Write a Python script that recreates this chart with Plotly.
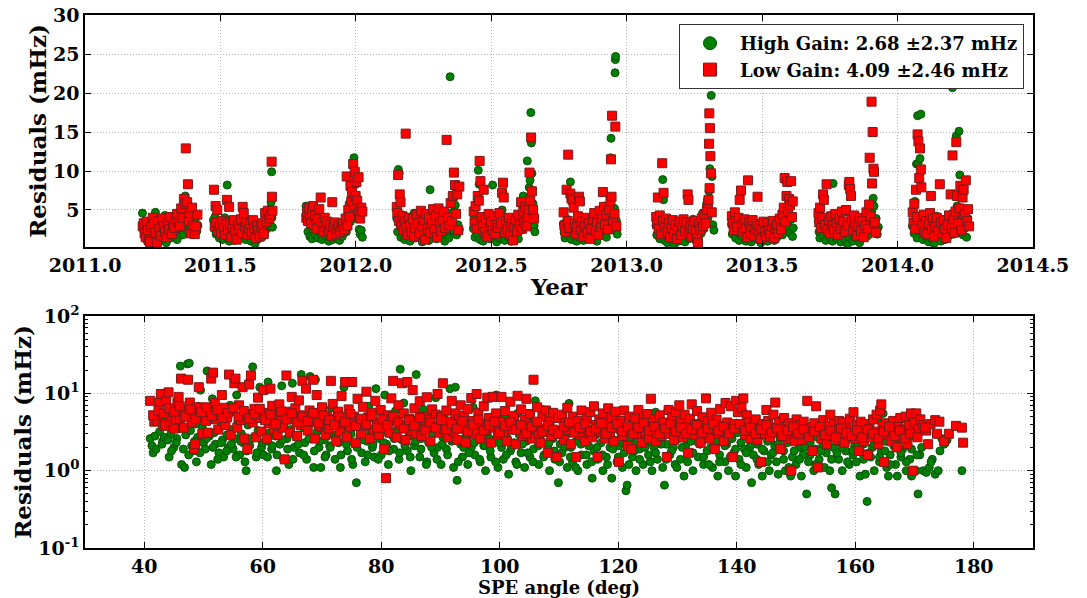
import plotly.graph_objects as go

# ---------------- data ----------------
# Top panel: residual (mHz) versus time (year)
hg_year_pts = [
    (2011.212,4.6),(2011.215,2.9),(2011.218,2.2),(2011.222,1.4),(2011.226,3.1),(2011.23,1.0),(2011.234,2.5),(2011.238,1.8),(2011.243,0.9),(2011.247,3.3),(2011.252,1.3),(2011.256,2.7),(2011.26,4.7),(2011.265,1.6),(2011.27,2.2),(2011.275,3.8),(2011.28,1.1),(2011.285,2.9),(2011.29,1.9),(2011.295,4.3),(2011.30,0.8),(2011.305,2.4),(2011.31,3.5),(2011.315,1.4),(2011.32,2.8),(2011.325,1.9),(2011.33,3.9),(2011.335,2.3),(2011.34,1.2),(2011.345,3.2),(2011.35,2.6),(2011.355,4.6),(2011.36,1.8),(2011.365,5.4),(2011.37,6.8),(2011.374,3.4),(2011.378,2.4),(2011.383,4.1),(2011.388,2.8),(2011.393,3.6),(2011.398,1.9),(2011.403,2.6),(2011.408,3.9),(2011.413,2.3),(2011.417,3.0),
    (2011.474,3.7),(2011.477,2.6),(2011.48,4.1),(2011.484,1.9),(2011.488,3.0),(2011.492,2.2),(2011.496,1.4),(2011.50,3.4),(2011.504,2.0),(2011.508,1.2),(2011.512,2.8),(2011.516,4.0),(2011.52,1.6),(2011.525,8.2),(2011.528,2.4),(2011.533,1.0),(2011.538,3.2),(2011.543,1.8),(2011.548,2.6),(2011.553,1.1),(2011.558,3.5),(2011.563,2.0),(2011.568,1.4),(2011.573,2.9),(2011.578,1.7),(2011.583,3.8),(2011.588,2.3),(2011.593,1.2),(2011.598,3.0),(2011.603,1.9),(2011.608,2.5),(2011.613,1.0),(2011.618,3.3),(2011.623,1.6),(2011.628,0.7),(2011.633,2.2),(2011.638,1.3),(2011.643,3.1),(2011.648,2.0),(2011.653,1.5),(2011.658,2.8),(2011.663,2.0),(2011.668,3.6),(2011.672,2.6),(2011.676,4.4),(2011.68,3.0),(2011.684,5.2),(2011.687,6.0),(2011.689,9.9),(2011.69,4.0),(2011.692,2.8),
    (2011.816,5.5),(2011.82,3.5),(2011.823,2.2),(2011.827,4.5),(2011.83,1.6),(2011.834,3.0),(2011.838,1.3),(2011.842,2.4),(2011.846,3.9),(2011.85,1.8),(2011.855,2.8),(2011.86,1.4),(2011.865,3.4),(2011.87,2.1),(2011.875,1.2),(2011.88,2.7),(2011.885,3.8),(2011.89,1.6),(2011.895,2.3),(2011.90,1.0),(2011.905,3.1),(2011.91,1.9),(2011.915,1.2),(2011.92,2.6),(2011.925,1.5),(2011.93,3.3),(2011.935,2.0),(2011.94,1.1),(2011.945,2.8),(2011.95,1.6),(2011.955,2.4),(2011.96,3.6),(2011.965,2.2),(2011.97,4.4),(2011.975,5.8),(2011.98,3.5),(2011.985,7.2),(2011.99,4.8),(2011.993,11.7),(2011.996,6.5),(2012.0,8.3),(2012.004,5.6),(2012.008,3.9),(2012.012,2.5),(2012.016,1.9),(2012.02,2.4),(2012.024,1.5),
    (2012.151,3.9),(2012.154,2.2),(2012.157,10.2),(2012.16,9.7),(2012.163,3.0),(2012.166,1.5),(2012.17,4.4),(2012.175,2.6),(2012.18,1.2),(2012.185,3.5),(2012.19,1.9),(2012.195,2.8),(2012.20,1.0),(2012.205,3.3),(2012.21,2.1),(2012.215,4.6),(2012.22,1.4),(2012.225,2.7),(2012.23,3.8),(2012.235,1.7),(2012.24,2.4),(2012.245,0.9),(2012.25,3.0),(2012.255,1.6),(2012.26,4.2),(2012.265,2.3),(2012.27,1.1),(2012.274,7.6),(2012.278,2.9),(2012.283,1.8),(2012.288,3.6),(2012.293,2.5),(2012.298,1.3),(2012.303,3.2),(2012.308,2.0),(2012.313,4.1),(2012.318,1.5),(2012.323,2.8),(2012.328,1.0),(2012.333,3.4),(2012.338,2.2),(2012.343,1.4),(2012.348,22.1),(2012.352,3.0),(2012.357,4.7),(2012.362,2.3),(2012.367,5.6),(2012.372,1.8),(2012.377,3.1),(2012.382,2.5),
    (2012.434,2.6),(2012.437,4.2),(2012.44,1.5),(2012.444,3.3),(2012.448,2.0),(2012.452,10.1),(2012.455,8.3),(2012.458,1.2),(2012.462,3.7),(2012.466,2.4),(2012.47,1.0),(2012.475,3.0),(2012.48,1.8),(2012.485,4.0),(2012.49,2.2),(2012.495,1.3),(2012.50,2.9),(2012.505,8.2),(2012.51,1.7),(2012.515,3.4),(2012.52,0.9),(2012.525,2.5),(2012.53,1.4),(2012.535,3.1),(2012.54,5.0),(2012.545,2.0),(2012.55,1.1),(2012.555,2.7),(2012.56,1.6),(2012.565,3.5),(2012.57,2.3),(2012.575,1.0),(2012.58,2.8),(2012.585,1.5),(2012.59,3.9),(2012.595,2.1),(2012.60,1.3),(2012.605,3.2),(2012.61,2.4),(2012.615,4.3),(2012.618,6.8),(2012.622,2.9),(2012.626,3.6),(2012.63,5.2),(2012.633,11.3),(2012.637,4.5),(2012.64,7.9),(2012.643,8.8),(2012.646,17.5),(2012.648,13.6),(2012.65,9.7),(2012.654,5.8),(2012.658,3.0),(2012.661,2.2),
    (2012.766,3.2),(2012.769,2.1),(2012.772,1.4),(2012.776,2.8),(2012.78,3.8),(2012.784,1.7),(2012.788,2.5),(2012.792,8.6),(2012.796,1.2),(2012.80,3.1),(2012.805,5.8),(2012.81,2.0),(2012.815,1.0),(2012.82,2.7),(2012.825,1.5),(2012.83,3.4),(2012.835,2.2),(2012.84,1.1),(2012.845,2.9),(2012.85,1.8),(2012.855,3.6),(2012.86,1.3),(2012.865,2.4),(2012.87,4.0),(2012.875,1.6),(2012.88,3.0),(2012.885,2.1),(2012.89,1.0),(2012.895,2.6),(2012.90,4.4),(2012.905,1.9),(2012.91,3.3),(2012.915,2.3),(2012.92,5.5),(2012.925,1.5),(2012.93,3.7),(2012.935,2.8),(2012.94,11.7),(2012.942,14.2),(2012.945,4.9),(2012.95,2.5),(2012.955,5.2),(2012.957,22.6),(2012.958,24.3),(2012.959,24.7),(2012.962,3.6),(2012.965,1.9),
    (2013.108,3.0),(2013.111,1.8),(2013.114,4.1),(2013.118,2.4),(2013.122,1.3),(2013.126,3.3),(2013.13,2.0),(2013.133,8.9),(2013.136,6.3),(2013.14,1.1),(2013.145,2.7),(2013.15,0.8),(2013.155,1.9),(2013.16,3.0),(2013.165,1.2),(2013.17,2.3),(2013.175,0.5),(2013.18,1.6),(2013.185,2.9),(2013.19,1.0),(2013.195,2.1),(2013.20,3.4),(2013.205,1.4),(2013.21,2.5),(2013.215,0.9),(2013.22,1.8),(2013.225,3.2),(2013.23,1.3),(2013.235,2.6),(2013.24,1.7),(2013.245,3.8),(2013.25,2.2),(2013.255,1.1),(2013.26,2.8),(2013.265,1.5),(2013.27,3.5),(2013.275,2.0),(2013.28,4.6),(2013.285,2.6),(2013.29,3.3),(2013.295,5.8),(2013.30,4.0),(2013.304,7.4),(2013.307,10.3),(2013.31,12.0),(2013.312,19.7),(2013.315,9.3),(2013.318,3.1),(2013.322,2.4),
    (2013.387,3.2),(2013.39,1.9),(2013.394,4.0),(2013.398,2.5),(2013.402,1.4),(2013.406,3.5),(2013.41,2.2),(2013.415,1.1),(2013.42,2.9),(2013.425,1.6),(2013.43,3.7),(2013.435,2.4),(2013.44,1.0),(2013.445,2.7),(2013.45,1.7),(2013.455,3.3),(2013.46,0.9),(2013.465,2.1),(2013.47,1.4),(2013.475,3.0),(2013.48,2.3),(2013.485,1.2),(2013.49,2.6),(2013.495,0.8),(2013.50,1.9),(2013.505,3.1),(2013.51,1.3),(2013.515,2.4),(2013.52,1.0),(2013.525,2.8),(2013.53,1.6),(2013.535,3.4),(2013.54,2.0),(2013.545,1.1),(2013.55,2.6),(2013.555,1.5),(2013.56,3.2),(2013.565,2.2),(2013.57,4.1),(2013.575,1.8),(2013.58,3.6),(2013.584,8.8),(2013.588,2.5),(2013.592,4.5),(2013.596,3.0),(2013.60,5.2),(2013.604,2.0),(2013.608,3.8),(2013.612,1.6),(2013.615,2.7),
    (2013.707,3.6),(2013.71,2.2),(2013.713,1.4),(2013.717,4.3),(2013.721,2.8),(2013.725,1.7),(2013.73,3.3),(2013.735,1.1),(2013.74,2.4),(2013.745,3.9),(2013.75,1.5),(2013.755,2.9),(2013.76,1.0),(2013.762,8.4),(2013.766,2.1),(2013.77,3.5),(2013.775,1.3),(2013.78,2.6),(2013.785,1.8),(2013.79,0.9),(2013.795,3.1),(2013.80,2.0),(2013.805,1.2),(2013.81,2.7),(2013.815,0.6),(2013.82,1.6),(2013.825,3.4),(2013.83,2.3),(2013.835,1.0),(2013.84,2.9),(2013.845,1.5),(2013.85,3.8),(2013.855,2.2),(2013.86,0.8),(2013.865,2.6),(2013.87,1.4),(2013.875,3.2),(2013.88,2.0),(2013.885,4.4),(2013.89,1.7),(2013.895,2.9),(2013.90,3.6),(2013.905,4.8),(2013.91,6.5),(2013.913,5.5),(2013.917,2.5),(2013.921,3.9),(2013.925,1.9),(2013.929,2.8),
    (2014.055,2.9),(2014.058,4.8),(2014.061,2.0),(2014.064,6.1),(2014.067,3.6),(2014.07,10.9),(2014.072,1.4),(2014.074,17.1),(2014.076,11.0),(2014.08,3.3),(2014.083,11.6),(2014.086,17.3),(2014.09,2.2),(2014.094,1.2),(2014.098,3.8),(2014.10,2.6),(2014.105,1.6),(2014.11,3.0),(2014.115,0.9),(2014.12,2.3),(2014.125,1.3),(2014.13,3.4),(2014.135,0.7),(2014.14,2.1),(2014.145,4.2),(2014.15,1.5),(2014.155,2.8),(2014.16,1.0),(2014.165,3.2),(2014.17,2.0),(2014.175,1.2),(2014.18,2.6),(2014.185,3.7),(2014.19,1.7),(2014.195,2.9),(2014.20,4.5),(2014.203,20.7),(2014.207,1.9),(2014.21,3.4),(2014.214,2.4),(2014.217,14.5),(2014.22,5.5),(2014.224,3.0),(2014.227,15.1),(2014.23,9.5),(2014.234,2.3),(2014.238,4.0),(2014.242,1.8),(2014.246,3.3),(2014.25,2.7),(2014.255,1.5),(2014.26,3.9),
]

lg_year_pts = [
    (2011.213,2.9),(2011.217,3.3),(2011.22,2.0),(2011.224,1.5),(2011.228,3.5),(2011.232,2.4),(2011.236,1.1),(2011.24,0.9),(2011.245,2.8),(2011.25,4.0),(2011.255,3.2),(2011.26,2.1),(2011.265,0.8),(2011.27,3.6),(2011.275,2.6),(2011.28,1.7),(2011.285,3.9),(2011.29,2.9),(2011.295,2.2),(2011.30,1.5),(2011.305,3.3),(2011.31,2.5),(2011.315,4.1),(2011.32,1.9),(2011.325,3.0),(2011.33,2.7),(2011.335,3.8),(2011.34,4.5),(2011.345,3.4),(2011.35,2.9),(2011.355,5.2),(2011.36,4.0),(2011.365,6.4),(2011.372,12.9),(2011.37,5.8),(2011.38,8.3),(2011.377,6.0),(2011.383,3.6),(2011.387,4.6),(2011.39,2.0),(2011.395,5.3),(2011.40,3.0),(2011.405,1.9),(2011.41,2.9),(2011.415,4.4),
    (2011.476,7.6),(2011.479,2.9),(2011.482,5.5),(2011.485,3.4),(2011.488,5.0),(2011.492,2.3),(2011.497,3.0),(2011.502,2.0),(2011.507,3.6),(2011.512,2.7),(2011.517,1.8),(2011.522,3.3),(2011.524,6.3),(2011.528,2.4),(2011.532,5.4),(2011.536,3.1),(2011.54,1.5),(2011.545,2.8),(2011.55,3.7),(2011.555,2.2),(2011.56,1.2),(2011.565,3.0),(2011.57,2.5),(2011.575,3.8),(2011.58,2.0),(2011.582,5.4),(2011.586,4.6),(2011.59,2.9),(2011.595,3.4),(2011.60,1.8),(2011.605,2.6),(2011.61,3.2),(2011.615,2.1),(2011.62,3.7),(2011.625,2.7),(2011.63,1.4),(2011.635,3.0),(2011.64,2.4),(2011.645,1.6),(2011.65,2.9),(2011.655,3.3),(2011.66,1.9),(2011.665,4.6),(2011.67,3.5),(2011.675,4.9),(2011.68,3.9),(2011.684,4.4),(2011.689,11.2),(2011.69,6.7),(2011.692,4.9),
    (2011.817,4.0),(2011.82,4.7),(2011.823,3.6),(2011.827,5.2),(2011.83,4.1),(2011.834,3.3),(2011.838,4.6),(2011.842,5.5),(2011.846,3.0),(2011.85,4.3),(2011.855,2.6),(2011.86,3.8),(2011.865,5.1),(2011.87,6.6),(2011.875,3.4),(2011.88,2.2),(2011.885,4.0),(2011.89,2.9),(2011.895,3.5),(2011.90,2.4),(2011.905,3.1),(2011.91,1.7),(2011.913,6.0),(2011.917,2.8),(2011.922,3.4),(2011.927,1.9),(2011.932,2.6),(2011.937,3.0),(2011.942,2.2),(2011.947,2.9),(2011.952,3.3),(2011.957,2.5),(2011.962,3.9),(2011.966,9.3),(2011.969,3.0),(2011.972,5.0),(2011.976,4.1),(2011.98,8.1),(2011.983,6.1),(2011.986,7.3),(2011.99,10.9),(2011.993,5.5),(2011.996,9.9),(2011.999,6.8),(2012.002,8.6),(2012.005,6.2),(2012.01,9.2),(2012.012,4.7),(2012.016,3.9),(2012.02,5.3),(2012.024,4.8),
    (2012.151,5.4),(2012.153,4.6),(2012.156,9.5),(2012.159,3.6),(2012.162,7.0),(2012.165,6.0),(2012.168,3.0),(2012.172,4.2),(2012.176,2.4),(2012.18,3.5),(2012.184,14.8),(2012.187,2.8),(2012.19,1.8),(2012.195,4.0),(2012.20,3.1),(2012.205,2.2),(2012.21,3.8),(2012.215,1.6),(2012.22,2.7),(2012.225,4.4),(2012.23,3.3),(2012.235,2.0),(2012.24,4.9),(2012.245,2.9),(2012.25,3.6),(2012.255,1.2),(2012.26,4.5),(2012.265,2.6),(2012.27,3.9),(2012.275,2.1),(2012.28,3.2),(2012.285,5.1),(2012.29,2.5),(2012.295,4.3),(2012.30,1.5),(2012.305,5.2),(2012.31,3.4),(2012.315,2.3),(2012.32,3.7),(2012.325,4.8),(2012.33,2.7),(2012.335,14.0),(2012.34,4.0),(2012.345,3.0),(2012.35,5.9),(2012.355,3.6),(2012.358,6.8),(2012.362,9.8),(2012.366,8.2),(2012.37,4.5),(2012.374,7.0),(2012.378,2.4),(2012.382,8.0),
    (2012.435,4.8),(2012.438,3.4),(2012.442,5.5),(2012.446,2.6),(2012.45,6.8),(2012.454,6.2),(2012.457,11.3),(2012.46,8.7),(2012.464,4.1),(2012.468,3.0),(2012.472,7.6),(2012.476,2.2),(2012.48,3.8),(2012.485,1.6),(2012.49,4.5),(2012.495,2.9),(2012.50,3.5),(2012.505,2.4),(2012.51,4.2),(2012.515,1.9),(2012.52,3.1),(2012.525,2.7),(2012.53,4.6),(2012.535,3.3),(2012.54,7.2),(2012.543,8.5),(2012.546,6.6),(2012.55,2.1),(2012.555,3.6),(2012.56,2.5),(2012.565,4.0),(2012.57,1.8),(2012.575,3.2),(2012.58,1.1),(2012.585,2.8),(2012.59,3.7),(2012.595,2.3),(2012.60,4.4),(2012.605,3.0),(2012.61,6.0),(2012.614,2.6),(2012.618,4.8),(2012.622,3.4),(2012.626,5.4),(2012.63,2.9),(2012.634,4.1),(2012.638,5.1),(2012.641,9.8),(2012.644,6.2),(2012.647,14.3),(2012.65,7.4),(2012.654,5.0),(2012.658,3.9),
    (2012.767,4.7),(2012.77,3.0),(2012.774,2.2),(2012.778,7.6),(2012.782,3.6),(2012.784,12.1),(2012.788,2.7),(2012.792,7.1),(2012.796,6.5),(2012.80,6.3),(2012.804,5.3),(2012.808,3.2),(2012.812,1.9),(2012.816,2.8),(2012.82,4.2),(2012.824,6.7),(2012.827,6.1),(2012.83,2.4),(2012.835,3.5),(2012.84,1.6),(2012.845,2.9),(2012.85,4.0),(2012.855,2.1),(2012.86,3.3),(2012.865,1.3),(2012.87,2.6),(2012.875,3.8),(2012.88,4.6),(2012.885,2.3),(2012.89,3.4),(2012.895,1.8),(2012.90,4.9),(2012.905,2.8),(2012.91,3.9),(2012.912,7.3),(2012.916,5.4),(2012.92,3.1),(2012.925,4.4),(2012.93,2.5),(2012.935,5.0),(2012.94,6.1),(2012.942,11.5),(2012.944,6.7),(2012.946,17.1),(2012.95,3.6),(2012.955,4.5),(2012.958,15.7),(2012.962,2.9),
    (2013.109,4.1),(2013.112,3.2),(2013.115,6.6),(2013.118,2.6),(2013.122,4.3),(2013.126,1.9),(2013.131,11.0),(2013.134,3.6),(2013.136,7.2),(2013.14,2.9),(2013.145,3.9),(2013.15,2.2),(2013.155,3.3),(2013.16,1.5),(2013.165,2.7),(2013.17,3.7),(2013.175,2.0),(2013.18,3.1),(2013.185,1.3),(2013.19,2.5),(2013.195,3.5),(2013.20,1.8),(2013.205,2.9),(2013.21,3.8),(2013.215,2.3),(2013.22,3.4),(2013.225,7.0),(2013.228,6.3),(2013.232,2.1),(2013.236,3.0),(2013.24,1.6),(2013.245,2.6),(2013.25,3.6),(2013.255,2.3),(2013.26,1.4),(2013.263,0.8),(2013.267,3.2),(2013.272,2.5),(2013.277,3.9),(2013.282,2.9),(2013.287,4.4),(2013.292,3.3),(2013.296,5.0),(2013.30,5.9),(2013.302,6.3),(2013.304,13.5),(2013.305,17.4),(2013.306,7.8),(2013.307,15.5),(2013.309,11.9),(2013.311,9.7),(2013.314,4.7),
    (2013.388,4.2),(2013.391,3.3),(2013.395,2.4),(2013.399,4.7),(2013.403,3.6),(2013.408,2.8),(2013.413,4.0),(2013.417,6.3),(2013.422,7.5),(2013.426,3.1),(2013.43,2.2),(2013.435,3.8),(2013.44,2.6),(2013.445,1.5),(2013.448,8.8),(2013.452,3.4),(2013.456,2.0),(2013.46,2.9),(2013.465,3.7),(2013.47,1.7),(2013.475,2.5),(2013.48,3.2),(2013.483,6.7),(2013.487,2.1),(2013.49,3.0),(2013.495,1.3),(2013.50,2.6),(2013.505,3.5),(2013.51,2.2),(2013.515,1.6),(2013.52,3.3),(2013.525,2.4),(2013.53,1.9),(2013.535,2.9),(2013.54,3.6),(2013.545,1.4),(2013.55,2.7),(2013.555,3.1),(2013.56,2.0),(2013.565,3.9),(2013.57,2.5),(2013.575,4.4),(2013.58,5.3),(2013.583,9.1),(2013.586,3.5),(2013.59,6.8),(2013.593,8.6),(2013.596,4.8),(2013.60,6.4),(2013.603,5.6),(2013.607,8.7),(2013.61,4.1),(2013.613,6.1),
    (2013.708,4.6),(2013.711,3.4),(2013.714,5.3),(2013.718,2.7),(2013.722,4.0),(2013.725,7.0),(2013.728,6.3),(2013.732,3.1),(2013.738,8.3),(2013.742,2.4),(2013.746,3.7),(2013.75,2.0),(2013.755,4.2),(2013.76,3.0),(2013.765,2.5),(2013.77,4.5),(2013.775,3.3),(2013.78,1.8),(2013.785,3.9),(2013.79,2.6),(2013.795,4.8),(2013.80,3.5),(2013.805,2.2),(2013.81,5.0),(2013.815,3.0),(2013.82,8.2),(2013.822,8.6),(2013.825,7.7),(2013.828,6.8),(2013.832,3.8),(2013.836,2.4),(2013.84,4.3),(2013.845,3.2),(2013.85,1.7),(2013.855,2.9),(2013.86,4.0),(2013.865,2.3),(2013.87,3.6),(2013.875,1.5),(2013.88,3.0),(2013.885,4.7),(2013.89,2.6),(2013.895,5.7),(2013.897,11.7),(2013.90,4.2),(2013.904,18.9),(2013.906,8.4),(2013.908,15.0),(2013.911,10.3),(2013.913,9.9),(2013.916,3.4),(2013.92,2.1),
    (2014.056,4.7),(2014.059,3.4),(2014.062,5.8),(2014.065,2.6),(2014.068,7.6),(2014.071,4.1),(2014.074,14.7),(2014.077,13.8),(2014.08,9.1),(2014.083,12.9),(2014.086,10.2),(2014.088,7.9),(2014.092,3.0),(2014.096,4.4),(2014.10,2.2),(2014.105,3.6),(2014.11,1.9),(2014.115,3.2),(2014.12,4.6),(2014.123,6.8),(2014.127,2.5),(2014.13,3.9),(2014.135,1.6),(2014.14,2.9),(2014.145,4.0),(2014.15,2.3),(2014.156,8.3),(2014.16,3.4),(2014.165,2.0),(2014.17,3.7),(2014.175,2.6),(2014.18,1.4),(2014.185,3.1),(2014.19,4.3),(2014.196,7.0),(2014.20,2.7),(2014.203,12.0),(2014.206,3.8),(2014.21,2.1),(2014.214,4.8),(2014.217,13.7),(2014.22,6.8),(2014.224,3.3),(2014.228,5.2),(2014.232,8.1),(2014.236,2.4),(2014.24,6.6),(2014.244,7.6),(2014.248,4.5),(2014.252,8.8),(2014.256,3.6),(2014.26,5.1),(2014.264,2.9),
]

# Bottom panel: residual (mHz) versus SPE angle (deg)
hg_angle_pts = [
    (41.0,2.6),(41.5,1.7),(41.8,2.8),(42.2,4.4),(42.6,3.2),(42.9,5.2),(43.1,2.4),(43.4,2.7),(43.6,3.8),(43.9,4.6),(44.2,1.5),(44.5,3.0),(44.8,5.6),(45.0,2.0),(45.2,4.1),(45.5,2.6),(45.8,6.2),(46.0,3.5),(46.1,22.5),(46.3,1.2),(46.5,4.8),(46.8,1.1),(47.0,2.9),(47.3,24.0),(47.6,24.5),(47.8,3.3),(48.0,2.1),(48.3,1.8),(48.6,4.0),(48.8,1.3),(49.0,2.7),(49.2,6.8),(49.5,11.0),(49.8,3.6),(50.0,2.3),
    (50.3,1.9),(50.6,19.5),(50.8,4.4),(51.0,2.8),(51.3,1.2),(51.5,8.5),(51.8,3.1),(52.0,2.2),(52.3,5.5),(52.6,1.7),(52.9,3.7),(53.2,2.5),(53.4,1.5),(53.7,4.9),(54.0,2.9),(54.2,2.0),(54.5,7.0),(54.8,3.4),(55.0,1.9),(55.3,2.6),(55.6,9.5),(55.8,4.2),(56.1,1.6),(56.4,3.0),(56.7,2.3),(57.0,1.3),(57.2,1.0),(57.5,3.9),(57.8,2.1),(58.0,5.1),(58.3,22.0),(58.6,2.7),(58.9,1.5),(59.2,3.3),(59.5,12.0),(59.8,2.0),
    (60.1,1.6),(60.3,4.6),(60.6,2.4),(60.9,14.0),(61.2,3.1),(61.5,1.9),(61.8,6.0),(62.1,2.8),(62.3,1.0),(62.6,3.8),(62.9,2.2),(63.2,12.5),(63.5,1.4),(63.8,4.3),(64.1,2.6),(64.4,1.2),(64.7,3.4),(65.0,13.5),(65.3,2.0),(65.6,5.0),(65.9,2.9),(66.2,1.7),(66.5,17.5),(66.8,3.6),(67.1,2.3),(67.4,1.4),(67.7,4.0),(68.0,16.5),(68.3,2.7),(68.6,1.1),(68.9,15.0),(69.2,3.2),(69.5,2.0),(69.8,1.1),
    (70.1,4.7),(70.4,2.5),(70.7,1.6),(71.0,3.5),(71.3,2.1),(71.6,6.5),(71.9,2.9),(72.2,1.4),(72.5,4.1),(72.8,2.3),(73.1,1.1),(73.4,3.3),(73.7,12.0),(74.0,2.6),(74.3,1.8),(74.6,5.3),(74.9,3.0),(75.2,1.2),(75.5,2.2),(75.8,0.7),(76.1,4.5),(76.4,2.8),(76.7,1.7),(77.0,3.7),(77.3,1.3),(77.6,2.4),(77.9,6.8),(78.2,3.1),(78.5,2.0),(78.8,1.5),(79.1,11.5),(79.4,4.0),(79.7,2.6),
    (80.0,1.6),(80.3,3.2),(80.6,9.5),(80.9,2.2),(81.2,1.2),(81.5,4.2),(81.8,2.9),(82.1,1.9),(82.4,5.9),(82.7,3.4),(83.0,1.4),(83.2,20.5),(83.5,2.5),(83.8,7.5),(84.1,3.7),(84.4,1.8),(84.7,2.8),(85.0,1.0),(85.3,4.6),(85.6,2.1),(85.9,17.5),(86.2,3.2),(86.5,1.5),(86.8,2.6),(87.1,6.2),(87.4,3.6),(87.7,1.3),(88.0,2.3),(88.3,4.9),(88.6,2.9),(88.9,1.7),(89.2,8.8),(89.5,2.0),(89.8,3.9),
    (90.1,1.2),(90.4,2.7),(90.7,5.4),(91.0,1.9),(91.3,3.3),(91.6,11.5),(91.9,2.4),(92.2,1.1),(92.5,12.0),(92.8,0.75),(93.1,3.8),(93.4,2.2),(93.7,1.5),(94.0,4.4),(94.3,2.8),(94.6,1.2),(94.9,3.1),(95.2,2.0),(95.5,6.6),(95.8,1.6),(96.1,3.5),(96.4,2.5),(96.7,1.3),(97.0,4.1),(97.3,2.1),(97.6,1.0),(97.9,3.0),(98.2,2.6),(98.5,1.5),(98.8,5.0),(99.1,2.3),(99.4,9.5),(99.7,1.1),
    (100.0,3.4),(100.3,2.0),(100.6,1.4),(100.9,4.8),(101.2,2.7),(101.5,0.9),(101.8,1.8),(102.1,3.6),(102.4,2.3),(102.7,1.3),(103.0,5.5),(103.3,2.9),(103.6,1.7),(103.9,3.2),(104.2,1.1),(104.5,2.4),(104.8,4.2),(105.1,1.5),(105.4,2.8),(105.7,1.9),(106.0,8.0),(106.3,3.5),(106.6,1.2),(106.9,2.5),(107.2,6.2),(107.5,1.6),(107.8,3.1),(108.1,2.1),(108.4,1.0),(108.7,4.5),(109.0,2.6),(109.3,1.4),(109.6,3.3),(109.9,0.7),
    (110.2,2.2),(110.5,1.7),(110.8,4.0),(111.1,2.8),(111.4,1.1),(111.7,7.4),(112.0,2.0),(112.3,1.3),(112.6,3.7),(112.9,2.4),(113.2,1.0),(113.5,3.0),(113.8,1.6),(114.1,2.6),(114.4,4.6),(114.7,1.2),(115.0,2.1),(115.3,3.4),(115.6,0.8),(115.9,1.8),(116.2,2.9),(116.5,1.4),(116.8,3.9),(117.1,2.3),(117.4,1.0),(117.7,2.7),(118.0,1.5),(118.3,3.5),(118.6,2.0),(118.9,0.8),(119.2,2.5),(119.5,4.3),(119.8,1.3),
    (120.1,2.1),(120.4,3.1),(120.7,1.1),(121.0,1.7),(121.3,0.55),(121.5,0.65),(121.8,2.6),(122.1,3.8),(122.4,1.5),(122.7,2.2),(123.0,1.0),(123.3,3.2),(123.6,1.9),(123.9,2.7),(124.2,1.2),(124.5,4.5),(124.8,2.3),(125.1,1.6),(125.4,3.0),(125.7,1.0),(126.0,2.0),(126.3,5.7),(126.6,1.4),(126.9,2.5),(127.2,3.5),(127.5,1.1),(127.8,0.65),(128.1,2.2),(128.4,6.2),(128.7,1.6),(129.0,3.0),(129.3,2.0),(129.6,1.2),(129.9,4.0),
    (130.2,2.6),(130.5,1.4),(130.8,3.3),(131.1,0.85),(131.4,2.1),(131.7,1.7),(132.0,4.3),(132.3,2.4),(132.6,1.0),(132.9,3.0),(133.2,6.0),(133.5,1.5),(133.8,2.2),(134.1,3.7),(134.4,1.2),(134.7,2.7),(135.0,1.8),(135.3,4.8),(135.6,2.0),(135.9,1.1),(136.2,3.2),(136.5,2.4),(136.8,0.85),(137.1,1.6),(137.4,2.9),(137.7,3.9),(138.0,1.3),(138.3,2.2),(138.6,1.0),(138.9,7.0),(139.2,2.6),(139.5,1.7),(139.8,0.85),
    (140.1,3.1),(140.4,1.4),(140.7,2.3),(141.0,5.8),(141.3,1.9),(141.6,1.1),(141.9,2.7),(142.2,2.0),(142.5,0.7),(142.8,1.6),(143.1,3.4),(143.4,2.2),(143.7,1.2),(144.0,2.8),(144.3,0.85),(144.6,1.8),(144.9,3.0),(145.2,2.4),(145.5,1.0),(145.8,1.6),(146.1,3.6),(146.4,2.1),(146.7,1.3),(147.0,0.9),(147.3,2.6),(147.6,4.6),(147.9,1.8),(148.2,1.0),(148.5,2.3),(148.8,3.2),(149.1,0.85),(149.4,1.5),(149.7,2.5),
    (150.0,1.2),(150.3,3.7),(150.6,2.0),(150.9,0.85),(151.2,1.6),(151.5,2.9),(151.8,0.5),(152.1,1.3),(152.4,2.3),(152.7,3.8),(153.0,1.0),(153.3,1.9),(153.6,2.7),(153.9,1.4),(154.2,3.3),(154.5,2.1),(154.8,1.1),(155.1,1.7),(155.4,2.6),(155.7,1.0),(156.0,0.6),(156.3,2.0),(156.6,0.5),(156.9,3.0),(157.2,1.4),(157.5,2.3),(157.8,1.0),(158.1,4.0),(158.4,1.8),(158.7,2.5),(159.0,1.2),(159.3,2.9),(159.6,1.6),(159.9,2.1),
    (160.2,1.3),(160.5,2.6),(160.8,0.85),(161.1,1.7),(161.4,2.2),(161.7,0.9),(162.0,0.4),(162.3,3.1),(162.6,1.5),(162.9,2.0),(163.2,1.0),(163.5,2.7),(163.8,4.6),(164.1,1.3),(164.4,1.8),(164.7,5.5),(165.0,2.4),(165.3,1.1),(165.6,0.85),(165.9,1.6),(166.2,3.0),(166.5,2.1),(166.8,1.2),(167.1,0.85),(167.4,2.5),(167.7,1.5),(168.0,1.9),(168.3,3.3),(168.6,1.0),(168.9,2.2),(169.2,1.4),(169.5,0.85),(169.8,2.8),
    (170.0,5.3),(170.3,1.0),(170.6,0.5),(170.9,1.6),(171.5,1.0),(172.0,0.95),(172.5,1.1),(173.0,1.4),(173.5,0.9),(174.0,1.0),(174.3,1.8),(175.0,2.2),(175.5,2.5),(178.0,1.0),
    (41.3,2.1),(42.0,1.9),(43.0,2.2),(44.0,2.5),(44.6,1.8),(45.4,2.3),(46.6,1.9),(47.5,1.6),(48.5,2.4),(49.4,1.7),(50.5,2.6),(51.6,2.0),(52.4,1.4),(53.0,2.3),(53.9,1.8),(54.7,2.2),(55.5,1.5),(56.3,2.4),(57.3,1.8),(58.1,2.6),(59.0,1.7),(59.9,2.3),(60.8,1.5),(61.6,2.1),(62.4,1.6),(63.3,2.5),(64.2,1.9),(65.1,1.4),(66.0,2.2),(66.9,1.6),(67.8,2.6),(68.7,1.8),(69.6,2.4),(70.5,1.5),(71.4,2.0),(72.3,2.7),(73.2,1.6),(74.1,2.2),(75.0,1.4),(75.9,2.0),(76.8,2.5),(77.7,1.6),(78.6,2.2),(79.5,1.4),
    (80.4,2.3),(81.3,1.8),(82.2,2.6),(83.1,1.7),(84.0,2.1),(84.9,1.5),(85.8,2.4),(86.7,1.9),(87.6,1.2),(88.5,2.0),(89.4,1.4),(90.3,2.2),(91.2,1.6),(92.1,2.5),(93.0,1.3),(93.9,2.0),(94.8,1.7),(95.7,2.3),(96.6,1.4),(97.5,2.1),(98.4,1.8),(99.3,1.3),(100.2,2.3),(101.1,1.6),(102.0,2.0),(102.9,1.2),(103.8,2.2),(104.7,1.7),(105.6,1.3),(106.5,2.1),(107.4,1.5),(108.3,2.3),(109.2,1.8),(110.1,1.3),(111.0,2.0),(111.9,1.5),(112.8,1.1),(113.7,2.2),(114.6,1.6),(115.5,1.3),(116.4,2.0),(117.3,1.6),(118.2,1.2),(119.1,1.9),
    (120.0,1.5),(120.9,2.3),(121.8,1.2),(122.7,1.8),(123.6,1.4),(124.5,2.0),(125.4,1.3),(126.3,1.7),(127.2,2.2),(128.1,1.4),(129.0,1.8),(129.9,1.1),(130.8,2.0),(131.7,1.3),(132.6,1.7),(133.5,2.3),(134.4,1.5),(135.3,1.2),(136.2,1.9),(137.1,1.3),(138.0,2.1),(138.9,1.5),(139.8,1.9),(140.7,1.2),(141.6,1.7),(142.5,2.2),(143.4,1.4),(144.3,1.9),(145.2,1.3),(146.1,1.7),(147.0,2.2),(147.9,1.4),(148.8,1.1),(149.7,1.8),
    (150.6,1.4),(151.5,2.0),(152.4,1.6),(153.3,1.2),(154.2,1.8),(155.1,2.2),(156.0,1.4),(156.9,1.7),(157.8,2.0),(158.7,1.3),(159.6,1.8),(160.5,2.1),(161.4,1.4),(162.3,1.7),(163.2,2.2),(164.1,1.5),(165.0,1.8),(165.9,1.2),(166.8,2.0),(167.7,1.7),(168.6,1.3),(169.5,1.9),(170.4,1.6),(171.2,2.0),(172.8,1.3),(174.6,2.6),
]

lg_angle_pts = [
    (41.0,8.0),(41.7,4.3),(42.1,4.4),(42.6,7.6),(42.8,9.8),(43.2,4.0),(43.5,3.8),(43.7,7.9),(44.1,10.3),(44.4,4.3),(44.7,5.0),(45.0,3.5),(45.3,4.6),(45.6,7.6),(45.8,9.0),(46.0,4.7),(46.2,15.5),(46.4,6.1),(46.7,3.6),(47.0,5.4),(47.4,15.0),(47.7,7.6),(48.0,4.2),(48.2,5.5),(48.4,1.9),(48.6,2.2),(48.9,6.6),(49.2,12.0),(49.5,4.8),(49.8,3.0),
    (50.1,6.0),(50.4,4.4),(50.7,3.1),(51.0,5.8),(51.3,15.5),(51.6,18.5),(51.9,7.5),(52.2,4.6),(52.5,3.4),(52.8,5.3),(53.1,9.5),(53.4,6.5),(53.7,3.9),(54.0,4.9),(54.3,17.5),(54.6,2.9),(54.9,5.9),(55.2,13.5),(55.4,15.5),(55.7,3.6),(56.0,7.0),(56.3,4.5),(56.6,12.0),(56.9,2.6),(57.2,5.4),(57.4,1.9),(57.7,13.0),(58.0,17.0),(58.3,4.2),(58.6,6.3),(58.9,2.7),(59.2,8.8),(59.5,4.8),(59.8,3.2),
    (60.1,11.0),(60.4,5.6),(60.7,2.6),(61.0,4.1),(61.3,11.5),(61.6,6.9),(61.9,3.4),(62.2,5.0),(62.5,2.9),(62.8,7.2),(63.1,4.4),(63.4,3.6),(63.7,1.4),(64.0,17.0),(64.3,5.8),(64.6,3.1),(64.9,9.0),(65.2,4.6),(65.5,6.4),(65.8,2.8),(66.1,8.1),(66.4,3.9),(66.7,14.5),(67.0,5.2),(67.3,11.5),(67.6,3.3),(67.9,6.0),(68.2,4.3),(68.5,15.0),(68.8,2.6),(69.1,9.5),(69.4,5.5),(69.7,3.7),
    (70.0,6.6),(70.3,4.0),(70.6,2.9),(70.9,5.1),(71.2,3.5),(71.5,14.5),(71.8,7.3),(72.1,4.6),(72.4,2.4),(72.7,5.8),(73.0,3.2),(73.3,9.2),(73.6,4.1),(73.9,14.0),(74.2,2.7),(74.5,6.2),(74.8,3.7),(75.1,14.0),(75.4,5.0),(75.7,2.3),(76.0,8.5),(76.3,4.4),(76.6,3.0),(76.9,6.7),(77.2,3.8),(77.5,10.5),(77.8,4.9),(78.1,2.6),(78.4,5.6),(78.7,3.4),(79.0,8.0),(79.3,4.2),(79.6,2.9),(79.9,6.1),
    (80.2,3.6),(80.5,1.9),(80.8,0.8),(81.1,5.2),(81.4,3.1),(81.7,8.6),(82.0,14.5),(82.3,4.5),(82.6,2.7),(82.9,7.0),(83.2,3.9),(83.5,13.5),(83.8,5.5),(84.1,2.5),(84.4,14.0),(84.7,4.7),(85.0,3.3),(85.3,11.0),(85.6,6.4),(85.9,3.0),(86.2,4.2),(86.5,7.9),(86.8,2.8),(87.1,5.0),(87.4,3.5),(87.7,8.9),(88.0,4.6),(88.3,2.4),(88.6,6.2),(88.9,3.8),(89.2,5.3),(89.5,9.8),(89.8,3.1),
    (90.1,4.9),(90.4,13.5),(90.7,3.4),(91.0,6.0),(91.3,2.7),(91.6,4.3),(91.9,8.0),(92.2,3.2),(92.5,5.5),(92.8,2.5),(93.1,4.7),(93.4,7.0),(93.7,3.5),(94.0,5.1),(94.3,2.3),(94.6,6.3),(94.9,3.9),(95.2,8.7),(95.5,4.4),(95.8,3.0),(96.1,9.8),(96.4,5.6),(96.7,2.6),(97.0,4.1),(97.3,6.8),(97.6,3.3),(97.9,8.8),(98.2,4.8),(98.5,2.3),(98.8,9.0),(99.1,3.6),(99.4,5.5),(99.7,2.9),
    (100.0,4.3),(100.3,9.0),(100.6,3.1),(100.9,5.9),(101.2,2.4),(101.5,4.0),(101.8,7.8),(102.1,3.4),(102.4,5.1),(102.7,2.2),(103.0,9.3),(103.3,3.8),(103.6,6.2),(103.9,2.8),(104.2,4.6),(104.5,8.5),(104.8,3.2),(105.1,5.4),(105.4,2.6),(105.7,15.0),(106.0,4.2),(106.3,6.6),(106.6,3.0),(106.9,2.3),(107.2,5.0),(107.5,3.5),(107.8,6.0),(108.1,1.7),(108.4,4.4),(108.7,2.8),(109.0,5.6),(109.3,3.3),(109.6,1.5),(109.9,4.8),
    (110.2,3.0),(110.5,5.3),(110.8,2.5),(111.1,4.1),(111.4,6.5),(111.7,3.4),(112.0,2.2),(112.3,5.0),(112.6,3.8),(112.9,1.5),(113.2,4.4),(113.5,2.9),(113.8,6.0),(114.1,3.5),(114.4,2.4),(114.7,4.7),(115.0,3.1),(115.3,5.7),(115.6,2.7),(115.9,6.8),(116.2,3.9),(116.5,1.5),(116.8,4.6),(117.1,3.2),(117.4,5.5),(117.7,2.6),(118.0,4.1),(118.3,6.4),(118.6,3.0),(118.9,4.9),(119.2,2.4),(119.5,5.8),(119.8,3.6),
    (120.1,1.3),(120.4,4.4),(120.7,2.8),(121.0,6.0),(121.3,3.3),(121.6,2.1),(121.9,5.0),(122.2,1.9),(122.5,3.9),(122.8,4.7),(123.1,2.9),(123.4,6.1),(123.7,3.5),(124.0,2.3),(124.3,4.8),(124.6,3.1),(124.9,5.4),(125.2,2.6),(125.5,8.5),(125.8,3.8),(126.1,4.6),(126.4,2.4),(126.7,3.3),(127.0,5.2),(127.3,2.8),(127.6,4.2),(127.9,3.0),(128.2,1.5),(128.5,6.1),(128.8,3.6),(129.1,4.9),(129.4,2.5),(129.7,5.7),
    (130.0,3.2),(130.3,7.0),(130.6,4.3),(130.9,2.7),(131.2,5.3),(131.5,3.6),(131.8,1.7),(132.1,4.7),(132.4,7.2),(132.7,2.9),(133.0,4.0),(133.3,5.9),(133.6,3.3),(133.9,2.3),(134.2,4.9),(134.5,3.1),(134.8,8.6),(135.1,4.4),(135.4,2.6),(135.7,5.6),(136.0,3.5),(136.3,1.9),(136.6,4.6),(136.9,3.0),(137.2,6.3),(137.5,3.8),(137.8,2.4),(138.1,7.5),(138.4,4.2),(138.7,3.4),(139.0,6.8),(139.3,1.5),(139.6,4.0),(139.9,8.0),
    (140.2,5.7),(140.5,3.7),(140.8,6.5),(141.1,8.6),(141.4,2.9),(141.7,5.2),(142.0,4.2),(142.3,2.6),(142.6,3.3),(142.9,3.8),(143.2,4.6),(143.5,2.5),(143.8,3.5),(144.1,1.3),(144.4,4.0),(144.7,3.0),(145.0,6.1),(145.3,4.4),(145.6,2.7),(145.9,3.6),(146.2,5.3),(146.5,7.6),(146.8,3.2),(147.1,4.2),(147.4,1.9),(147.7,3.0),(148.0,4.8),(148.3,3.5),(148.6,2.6),(148.9,4.1),(149.2,1.0),(149.5,3.3),(149.8,2.4),
    (150.1,4.6),(150.4,3.0),(150.7,3.9),(151.0,2.5),(151.3,4.3),(151.6,3.1),(151.9,8.0),(152.2,2.9),(152.5,3.6),(152.8,1.8),(153.1,4.1),(153.4,6.8),(153.7,1.1),(154.0,3.4),(154.3,2.6),(154.6,4.5),(154.9,3.2),(155.2,2.2),(155.5,3.8),(155.8,5.3),(156.1,2.8),(156.4,4.0),(156.7,3.3),(157.0,2.5),(157.3,4.4),(157.6,3.0),(157.9,4.2),(158.2,2.3),(158.5,3.6),(158.8,2.9),(159.1,4.7),(159.4,3.4),(159.7,5.7),
    (160.0,2.6),(160.3,3.9),(160.6,1.8),(160.9,4.3),(161.2,3.1),(161.5,2.4),(161.8,4.0),(162.1,1.6),(162.4,3.5),(162.7,2.7),(163.0,4.6),(163.3,3.2),(163.6,5.3),(163.9,2.2),(164.2,6.0),(164.4,7.2),(164.6,3.8),(164.9,1.3),(165.2,4.1),(165.5,2.9),(165.8,3.5),(166.1,2.4),(166.4,4.4),(166.7,3.1),(167.0,2.0),(167.3,3.7),(167.6,4.8),(167.9,2.7),(168.2,3.4),(168.5,5.0),(168.8,2.2),(169.1,3.9),(169.4,5.5),(169.7,1.0),
    (170.0,4.2),(170.3,5.5),(170.6,3.4),(171.0,4.6),(171.5,3.9),(172.0,3.3),(172.3,2.2),(172.7,4.0),(173.5,4.5),(173.8,3.0),(174.2,4.3),(175.0,2.4),(175.8,3.0),(177.0,3.8),(178.0,3.6),(178.2,2.3),
    (41.5,5.2),(42.4,6.0),(43.3,5.5),(44.2,6.4),(45.1,5.8),(46.0,6.8),(46.9,5.0),(47.8,6.2),(48.7,4.6),(49.6,5.7),(50.5,6.6),(51.4,5.1),(52.3,6.1),(53.2,4.8),(54.1,5.6),(55.0,6.4),(55.9,5.0),(56.8,5.9),(57.7,4.7),(58.6,5.4),(59.5,6.3),(60.4,4.5),(61.3,5.3),(62.2,4.0),(63.1,5.8),(64.0,4.6),(64.9,5.5),(65.8,4.2),(66.7,5.0),(67.6,4.4),(68.5,5.6),(69.4,4.1),
    (70.3,5.2),(71.2,4.5),(72.1,3.9),(73.0,5.0),(73.9,4.3),(74.8,5.4),(75.7,3.8),(76.6,4.7),(77.5,4.0),(78.4,5.1),(79.3,3.6),(80.2,4.6),(81.1,3.9),(82.0,5.0),(82.9,4.2),(83.8,3.5),(84.7,4.5),(85.6,3.8),(86.5,4.8),(87.4,3.3),(88.3,4.2),(89.2,3.6),(90.1,4.5),(91.0,3.4),(91.9,4.0),(92.8,3.5),(93.7,4.4),(94.6,3.2),(95.5,3.9),(96.4,4.6),(97.3,3.3),(98.2,3.9),(99.1,4.3),
    (100.0,3.1),(100.9,3.8),(101.8,4.2),(102.7,3.4),(103.6,3.9),(104.5,3.0),(105.4,3.7),(106.3,4.3),(107.2,3.2),(108.1,3.8),(109.0,3.4),(109.9,3.0),(110.8,3.7),(111.7,4.2),(112.6,3.1),(113.5,3.6),(114.4,4.0),(115.3,3.2),(116.2,3.5),(117.1,4.1),(118.0,3.0),(118.9,3.6),(119.8,4.0),(120.7,3.2),(121.6,3.7),(122.5,3.0),(123.4,3.6),(124.3,4.1),(125.2,3.3),(126.1,3.7),(127.0,3.0),(127.9,3.5),(128.8,4.0),(129.7,3.2),
    (130.6,3.6),(131.5,3.0),(132.4,3.4),(133.3,3.9),(134.2,3.1),(135.1,3.5),(136.0,4.0),(136.9,3.3),(137.8,3.7),(138.7,3.0),(139.6,3.5),(140.5,4.0),(141.4,3.3),(142.3,3.6),(143.2,3.0),(144.1,3.4),(145.0,3.9),(145.9,3.1),(146.8,3.5),(147.7,2.8),(148.6,3.3),(149.5,3.7),(150.4,3.0),(151.3,3.4),(152.2,2.7),(153.1,3.2),(154.0,3.7),(154.9,2.9),(155.8,3.3),(156.7,2.7),(157.6,3.5),(158.5,3.1),(159.4,2.8),
    (160.3,3.3),(161.2,2.7),(162.1,3.4),(163.0,3.0),(163.9,2.6),(164.8,3.2),(165.7,3.7),(166.6,2.8),(167.5,3.3),(168.4,2.6),(169.3,3.0),(170.5,2.7),(171.8,3.6),
]

legend_hg = "High Gain: 2.68 \u00b12.37 mHz"
legend_lg = "Low Gain: 4.09 \u00b12.46 mHz"

year_ticks = [2011.0, 2011.5, 2012.0, 2012.5, 2013.0, 2013.5, 2014.0, 2014.5]
res_ticks = [5, 10, 15, 20, 25, 30]
angle_ticks = [40, 60, 80, 100, 120, 140, 160, 180]
log_ticks = [0.1, 1, 10, 100]
log_tick_text = ["10<sup>-1</sup>", "10<sup>0</sup>", "10<sup>1</sup>", "10<sup>2</sup>"]
log_minor = [m * d for d in (0.1, 1, 10) for m in range(2, 10)]

# ---------------- style ----------------
W, H = 1087, 598
FONT = "DejaVu Serif"
GREEN = "#008000"
GREEN_EDGE = "#0b4f0b"
RED = "#ff0000"
RED_EDGE = "#7a1a1a"

def split(pts):
    return [p[0] for p in pts], [p[1] for p in pts]

hx, hy = split(hg_year_pts)
lx, ly = split(lg_year_pts)
ha, hr = split(hg_angle_pts)
la, lr = split(lg_angle_pts)

green_marker = dict(symbol="circle", size=8, color=GREEN, line=dict(color=GREEN_EDGE, width=1))
red_marker = dict(symbol="square", size=9, color=RED, line=dict(color=RED_EDGE, width=1))

fig = go.Figure()
fig.add_trace(go.Scatter(x=hx, y=hy, mode="markers", marker=green_marker, showlegend=False, xaxis="x", yaxis="y"))
fig.add_trace(go.Scatter(x=lx, y=ly, mode="markers", marker=red_marker, showlegend=False, xaxis="x", yaxis="y"))
fig.add_trace(go.Scatter(x=ha, y=hr, mode="markers", marker=green_marker, showlegend=False, xaxis="x2", yaxis="y2"))
fig.add_trace(go.Scatter(x=la, y=lr, mode="markers", marker=red_marker, showlegend=False, xaxis="x2", yaxis="y2"))
# legend entries (larger symbols, like the reference legend)
fig.add_trace(go.Scatter(x=[None], y=[None], mode="markers", name=legend_hg,
                         marker=dict(symbol="circle", size=13, color=GREEN, line=dict(color=GREEN_EDGE, width=1)),
                         xaxis="x", yaxis="y"))
fig.add_trace(go.Scatter(x=[None], y=[None], mode="markers", name=legend_lg,
                         marker=dict(symbol="square", size=13, color=RED, line=dict(color=RED_EDGE, width=1)),
                         xaxis="x", yaxis="y"))

xdom = [85 / W, 1033 / W]
ydom_top = [1 - 247 / H, 1 - 15 / H]
ydom_bot = [1 - 548 / H, 1 - 316 / H]

tickfont = dict(family=FONT, size=19, color="black", weight="bold")

common = dict(
    showline=True, linecolor="black", linewidth=1.5, mirror="allticks",
    ticks="inside", ticklen=6, tickwidth=1, tickcolor="black",
    showgrid=True, gridcolor="#b4b4b4", griddash="1px,2px", gridwidth=1,
    zeroline=False, tickfont=tickfont, automargin=False,
)

fig.update_layout(
    width=W, height=H,
    margin=dict(l=0, r=0, t=0, b=0),
    paper_bgcolor="white", plot_bgcolor="white",
    font=dict(family=FONT, color="black"),
    xaxis=dict(domain=xdom, anchor="y", range=[2010.9999, 2014.5001],
               tickvals=year_ticks, ticktext=[f"{v:.1f}" for v in year_ticks],
               title=dict(text="Year", font=dict(family=FONT, size=23, weight="bold"), standoff=4),
               **common),
    yaxis=dict(domain=ydom_top, anchor="x", range=[0.25, 30.02], tickvals=res_ticks,
               title=dict(text="Residuals (mHz)", font=dict(family=FONT, size=23, weight="bold"), standoff=0),
               **common),
    xaxis2=dict(domain=xdom, anchor="y2", range=[30, 190], tickvals=angle_ticks,
                title=dict(text="SPE angle (deg)", font=dict(family=FONT, size=18, weight="bold"), standoff=3),
                **common),
    yaxis2=dict(domain=ydom_bot, anchor="x2", type="log", range=[-1, 2],
                tickvals=log_ticks, ticktext=log_tick_text,
                minor=dict(tickmode="array", tickvals=log_minor, ticks="inside", ticklen=3,
                           tickcolor="black", showgrid=False),
                title=dict(text="Residuals (mHz)", font=dict(family=FONT, size=23, weight="bold"), standoff=0),
                **common),
    legend=dict(x=1024 / W, xanchor="right", y=1 - 24 / H, yanchor="top",
                bgcolor="white", bordercolor="#333333", borderwidth=1,
                font=dict(family=FONT, size=18, color="black", weight="bold"),
                itemsizing="trace", itemwidth=50, tracegroupgap=0),
)

fig.write_html("out.html", config={"displayModeBar": False},
               post_script="document.body.style.margin='0px';document.body.style.overflow='hidden';")
